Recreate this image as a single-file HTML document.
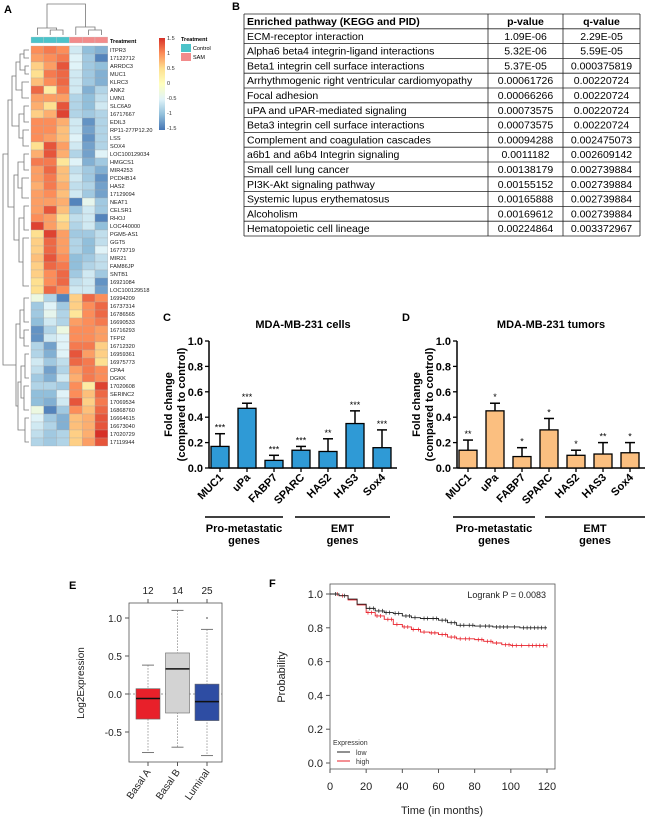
<!DOCTYPE html>
<html><head><meta charset="utf-8"><style>
body{margin:0;background:#fff}
svg{display:block;font-family:"Liberation Sans",Arial,sans-serif}
</style></head><body>
<svg id="fig" width="650" height="823" viewBox="0 0 650 823" xmlns="http://www.w3.org/2000/svg">
<g id="panelA"></g>
<g id="panelB"></g>
<g id="panelC"></g>
<g id="panelD"></g>
<g id="panelE"></g>
<g id="panelF"></g>
</svg>
<script>
// ===== Data =====
const geneNames = ["ITPR3","17122712","ARRDC3","MUC1","KLRC3","ANK2","LMN1","SLC6A9","16717667","EDIL3","RP11-277P12.20","LSS","SOX4","LOC100129034","HMGCS1","MIR4253","PCDHB14","HAS2","17129094","NEAT1","CELSR1","RHOJ","LOC440000","PGM5-AS1","GGT5","16773719","MIR21","FAM86JP","SNTB1","16921084","LOC100129518","16994209","16737314","16786565","16690533","16716293","TFPI2","16712320","16959361","16975773","CPA4","DGKK","17020608","SERINC2","17069534","16868760","16664615","16673040","17020729","17119944"];
const heatValues = [
[1.0,1.1,1.0,-0.6,-1.0,-1.1],[0.9,1.0,1.1,-0.5,-0.9,-1.4],[0.6,0.9,1.3,-0.5,-0.9,-1.0],[0.5,1.1,1.2,-0.6,-0.9,-1.1],[0.7,1.0,1.2,-0.6,-0.9,-1.1],
[1.2,0.3,1.1,-0.6,-1.1,-0.8],[0.9,0.9,0.9,-0.8,-1.0,-0.7],[0.8,0.5,1.3,-0.8,-1.0,-0.6],[0.6,0.8,1.4,-0.8,-0.9,-0.8],[1.0,1.0,0.8,-0.6,-1.3,-0.8],
[1.0,1.0,0.7,-0.6,-1.2,-0.8],[1.0,0.9,0.7,-0.5,-1.3,-0.8],[0.5,1.3,0.9,-0.6,-1.2,-0.8],[0.8,1.3,0.8,-0.8,-1.2,-0.5],[1.1,1.1,0.4,-0.5,-1.1,-0.9],
[0.9,1.2,0.7,-0.7,-0.9,-1.1],[0.9,1.1,0.7,-0.6,-0.9,-1.3],[0.8,1.1,0.8,-0.7,-0.8,-1.2],[0.9,1.0,0.7,-0.6,-0.9,-1.2],[0.9,0.9,0.8,-1.4,-0.4,-0.9],
[0.9,1.3,0.7,-0.9,-0.6,-0.9],[1.0,0.9,0.5,-0.7,-0.6,-1.4],[1.4,0.9,0.6,-0.8,-0.6,-1.0],[0.5,1.4,0.9,-0.9,-0.9,-0.7],[0.6,1.2,0.9,-0.8,-1.0,-0.7],
[0.6,1.2,0.9,-0.8,-1.0,-0.5],[0.7,1.3,1.0,-1.0,-0.9,-0.7],[0.6,1.2,1.1,-1.0,-0.8,-0.7],[0.6,1.0,1.2,-0.9,-0.6,-0.9],[0.5,1.0,1.2,-0.7,-0.6,-1.3],
[0.5,1.2,1.0,-0.6,-0.6,-1.2],[-0.3,-0.8,-1.4,0.6,1.2,1.0],[-0.9,-0.5,-0.9,0.6,1.0,1.2],[-0.9,-0.4,-0.8,0.4,1.0,1.2],[-1.0,-0.6,-0.8,0.9,1.0,1.1],
[-1.3,-0.8,-0.3,1.0,1.0,0.9],[-1.3,-0.6,-0.5,1.0,1.0,0.9],[-0.8,-1.2,-0.5,1.1,1.1,0.6],[-0.8,-1.1,-0.5,1.3,0.9,0.6],[-0.6,-0.9,-0.7,1.2,1.1,0.5],
[-0.7,-1.2,-0.8,0.9,1.1,1.0],[-0.9,-1.1,-0.6,0.8,1.1,1.0],[-0.8,-0.8,-0.9,1.0,0.3,1.4],[-1.0,-1.0,-0.5,1.0,0.7,1.2],[-1.0,-1.1,-0.6,1.3,0.6,1.1],
[-0.3,-1.4,-0.9,1.0,0.7,1.2],[-0.5,-0.9,-1.1,0.7,0.8,1.3],[-0.6,-0.8,-1.1,0.7,0.8,1.3],[-0.7,-0.9,-0.8,0.6,0.8,1.5],[-0.8,-0.9,-0.8,0.6,0.9,1.3]];
const treatment = ["Control","Control","Control","SAM","SAM","SAM"];
const scaleTicks = [1.5,1,0.5,0,-0.5,-1,-1.5];

const tableRows = [["ECM-receptor interaction","1.09E-06","2.29E-05"],["Alpha6 beta4 integrin-ligand interactions","5.32E-06","5.59E-05"],["Beta1 integrin cell surface interactions","5.37E-05","0.000375819"],["Arrhythmogenic right ventricular cardiomyopathy","0.00061726","0.00220724"],["Focal adhesion","0.00066266","0.00220724"],["uPA and uPAR-mediated signaling","0.00073575","0.00220724"],["Beta3 integrin cell surface interactions","0.00073575","0.00220724"],["Complement and coagulation cascades","0.00094288","0.002475073"],["a6b1 and a6b4 Integrin signaling","0.0011182","0.002609142"],["Small cell lung cancer","0.00138179","0.002739884"],["PI3K-Akt signaling pathway","0.00155152","0.002739884"],["Systemic lupus erythematosus","0.00165888","0.002739884"],["Alcoholism","0.00169612","0.002739884"],["Hematopoietic cell lineage","0.00224864","0.003372967"]];

const barCategories = ["MUC1","uPa","FABP7","SPARC","HAS2","HAS3","Sox4"];
const cellsValues = [0.17,0.47,0.06,0.14,0.13,0.35,0.16];
const cellsErrors = [0.10,0.04,0.04,0.03,0.10,0.10,0.14];
const cellsStars = ["***","***","***","***","**","***","***"];
const tumorValues = [0.14,0.45,0.09,0.30,0.10,0.11,0.12];
const tumorErrors = [0.08,0.06,0.07,0.09,0.04,0.09,0.08];
const tumorStars = ["**","*","*","*","*","**","*"];
const barTicks = ["0.0","0.2","0.4","0.6","0.8","1.0"];

const boxGroups = ["Basal A","Basal B","Luminal"];
const boxCounts = ["12","14","25"];
const boxMin = [-0.77,-0.70,-0.81];
const boxQ1 = [-0.33,-0.25,-0.35];
const boxMedian = [-0.06,0.33,-0.10];
const boxQ3 = [0.07,0.54,0.13];
const boxMax = [0.38,1.10,0.85];
const boxOutliers = [[],[],[1.0]];
const boxTicks = ["-0.5","0.0","0.5","1.0"];

const kmLowTime = [0,5,10,15,20,25,30,35,40,45,50,55,60,65,70,80,90,105,120];
const kmLowProb = [1.0,0.99,0.97,0.94,0.915,0.90,0.89,0.885,0.87,0.86,0.855,0.855,0.845,0.83,0.815,0.81,0.805,0.80,0.80];
const kmHighTime = [0,5,10,15,20,25,30,35,40,45,50,55,60,65,70,80,85,90,95,100,120];
const kmHighProb = [1.0,0.99,0.965,0.935,0.89,0.87,0.85,0.82,0.805,0.79,0.775,0.77,0.76,0.745,0.735,0.73,0.72,0.71,0.70,0.695,0.695];
const kmLowCensor = [3,8,22,24,27,29,31,33,36,38,42,44,47,52,54,57,59,62,64,67,69,72,74,77,79,83,86,88,92,94,96,98,102,107,109,111,113,115,117,119];
const kmHighCensor = [4,7,21,23,26,28,32,34,37,41,43,46,49,52,56,58,62,64,67,69,72,75,77,82,84,87,89,92,97,99,101,103,106,110,112,114,116,118,120];
const kmXTicks = [0,20,40,60,80,100,120];
const kmYTicks = [0,0.2,0.4,0.6,0.8,1.0];

// ===== helpers =====
const NS="http://www.w3.org/2000/svg";
function mk(parent,tag,attrs,text){const e=document.createElementNS(NS,tag);for(const k in attrs)e.setAttribute(k,attrs[k]);if(text!==undefined)e.textContent=text;parent.appendChild(e);return e;}
function lbl(parent,x,y,t,name){const e=mk(parent,"text",{x:x,y:y,"font-size":11,"font-weight":"bold"},t);


return e;}

// ===== Panel A =====
(function(){
const g=document.getElementById("panelA");
lbl(g,4,13,"A","panel-a-label");
const stops=[[-1.5,[69,117,180]],[-1,[145,191,219]],[-0.5,[224,243,248]],[0,[255,255,191]],[0.5,[254,224,144]],[1,[252,141,89]],[1.5,[215,48,39]]];
function col(v){v=Math.max(-1.5,Math.min(1.5,v));for(let i=0;i<stops.length-1;i++){const a=stops[i],b=stops[i+1];if(v<=b[0]){const t=(v-a[0])/(b[0]-a[0]);const c=a[1].map((x,j)=>Math.round(x+(b[1][j]-x)*t));return "rgb("+c.join(",")+")";}}return "rgb(215,48,39)";}
const x0=31,cw=12.8,y0=46,rh=8;
const xc=i=>x0+i*cw, yr=r=>y0+r*rh;
treatment.forEach((t,i)=>{const r=mk(g,"rect",{x:xc(i),y:37,width:cw,height:6,fill:t==="Control"?"#4cc3c9":"#f28b8b",stroke:"#ccc","stroke-width":0.3});

});
mk(g,"text",{x:110,y:43,"font-size":5.5,"font-weight":"bold"},"Treatment");
heatValues.forEach((row,r)=>{row.forEach((v,i)=>{const c=mk(g,"rect",{x:xc(i),y:yr(r),width:cw,height:rh,fill:col(v),stroke:"#aaa","stroke-width":0.3});

});
const t=mk(g,"text",{x:110,y:yr(r)+6,"font-size":5.6,fill:"#222"},geneNames[r]);

});
const dp="stroke:#777;fill:none;stroke-width:0.8";
const cx=i=>xc(i)+cw/2;
mk(g,"path",{style:dp,d:`M${cx(1)} 35V30H${cx(2)}V35 M${cx(0)} 35V28H${(cx(1)+cx(2))/2}V30 M${cx(4)} 35V30H${cx(5)}V35 M${cx(3)} 35V27H${(cx(4)+cx(5))/2}V30 M${(cx(0)+cx(1.5))/2} 28V4H${(cx(3)+cx(4.5))/2}V27`});
mk(g,"path",{style:dp,d:`M29 50H24V58H29 M29 66H25V74H29 M24 54H20V70H25 M29 82H22V98H29 M20 62H16V90H22 M29 106H24V122H29 M29 130H23V146H29 M24 114H19V138H23 M16 76H12V126H19 M29 154H24V170H29 M29 178H22V198H29 M24 162H18V188H22 M29 206H24V230H29 M29 238H23V286H29 M24 218H19V262H23 M18 175H14V240H19 M12 100H8V207H14 M29 298H24V322H29 M29 330H24V346H29 M24 310H20V338H24 M29 354H25V378H29 M29 386H24V410H29 M29 418H25V442H29 M25 366H21V398H24 M24 430H21V430 M21 382H18V430H25 M20 324H16V406H18 M8 154H3V365H16`});
const grad=mk(g,"defs",{});const lg=mk(grad,"linearGradient",{id:"hg",x1:0,y1:0,x2:0,y2:1});
stops.slice().reverse().forEach((s,i)=>mk(lg,"stop",{offset:(i/6),"stop-color":col(s[0])}));
const cb=mk(g,"rect",{x:159,y:38,width:6,height:92,fill:"url(#hg)"});


scaleTicks.forEach((v,i)=>mk(g,"text",{x:167,y:40+(1.5-v)/3*90,"font-size":5.5,fill:"#333"},String(v)));
mk(g,"text",{x:181,y:41,"font-size":5.5,"font-weight":"bold"},"Treatment");
mk(g,"rect",{x:181,y:44,width:10,height:8,fill:"#4cc3c9"});mk(g,"text",{x:193,y:50,"font-size":5.5},"Control");
mk(g,"rect",{x:181,y:53,width:10,height:8,fill:"#f28b8b"});mk(g,"text",{x:193,y:59,"font-size":5.5},"SAM");
})();

// ===== Panel B =====
(function(){
const g=document.getElementById("panelB");
lbl(g,232,10,"B","panel-b-label");
const X=[244,488,563,640],top=14,rh=14.8;
const rows=[["Enriched pathway (KEGG and PID)","p-value","q-value"]].concat(tableRows);
rows.forEach((r,i)=>{const y=top+i*rh;
mk(g,"line",{x1:X[0],x2:X[3],y1:y,y2:y,stroke:"#222","stroke-width":0.8});
const b=i===0?"bold":"normal";
const t1=mk(g,"text",{x:X[0]+3,y:y+11,"font-size":10.5,"font-weight":b},r[0]);


mk(g,"text",{x:(X[1]+X[2])/2,y:y+11,"font-size":10.5,"font-weight":b,"text-anchor":"middle"},r[1]);
mk(g,"text",{x:(X[2]+X[3])/2,y:y+11,"font-size":10.5,"font-weight":b,"text-anchor":"middle"},r[2]);});
const yb=top+rows.length*rh;
mk(g,"line",{x1:X[0],x2:X[3],y1:yb,y2:yb,stroke:"#222","stroke-width":0.8});
X.forEach(x=>mk(g,"line",{x1:x,x2:x,y1:top,y2:yb,stroke:"#222","stroke-width":0.8}));
})();

// ===== Panels C & D =====
function barPanel(id,letter,lx,title,ax,axEnd,vals,errs,stars,fill,grp){
const g=document.getElementById(id);
lbl(g,lx,321,letter,"panel-"+letter.toLowerCase()+"-label");
const y0=468,h=127,yv=v=>y0-v*h, xb=i=>ax+11+i*27;
const tt=mk(g,"text",{x:(ax+axEnd)/2,y:328,"font-size":11,"font-weight":"bold","text-anchor":"middle"},title);


mk(g,"line",{x1:ax,x2:ax,y1:yv(1),y2:y0,stroke:"#000","stroke-width":1.5});
mk(g,"line",{x1:ax,x2:axEnd,y1:y0,y2:y0,stroke:"#000","stroke-width":1.5});
barTicks.forEach(t=>{const v=parseFloat(t);mk(g,"line",{x1:ax-4,x2:ax,y1:yv(v),y2:yv(v),stroke:"#000","stroke-width":1.3});
mk(g,"text",{x:ax-6,y:yv(v)+4,"font-size":11,"font-weight":"bold","text-anchor":"end"},t);});
const ycx=ax-30;
const ya=mk(g,"text",{transform:`translate(${ycx},${(yv(0)+yv(1))/2}) rotate(-90)`,"font-size":11,"font-weight":"bold","text-anchor":"middle"});


mk(ya,"tspan",{x:0,dy:-7},"Fold change");mk(ya,"tspan",{x:0,dy:13},"(compared to control)");
vals.forEach((v,i)=>{const x=xb(i);
mk(g,"line",{x1:x,x2:x,y1:yv(v),y2:yv(v+errs[i]),stroke:"#000","stroke-width":1.5});
mk(g,"line",{x1:x-5,x2:x+5,y1:yv(v+errs[i]),y2:yv(v+errs[i]),stroke:"#000","stroke-width":1.5});
const r=mk(g,"rect",{x:x-9,y:yv(v),width:18,height:v*h,fill:fill,stroke:"#000","stroke-width":1.3});


mk(g,"text",{x:x,y:yv(v+errs[i])-3,"font-size":9,"text-anchor":"middle"},stars[i]);
mk(g,"line",{x1:x,x2:x,y1:y0,y2:y0+4,stroke:"#000","stroke-width":1.3});
const cl=mk(g,"text",{transform:`translate(${x+4},${y0+10}) rotate(-45)`,"font-size":11,"font-weight":"bold","text-anchor":"end"},barCategories[i]);

});
grp.forEach(gp=>{mk(g,"line",{x1:gp[0],x2:gp[1],y1:517,y2:517,stroke:"#000","stroke-width":1.5});
const t=mk(g,"text",{x:(gp[0]+gp[1])/2,y:532,"font-size":11,"font-weight":"bold","text-anchor":"middle"});


mk(t,"tspan",{x:(gp[0]+gp[1])/2,dy:0},gp[2]);mk(t,"tspan",{x:(gp[0]+gp[1])/2,dy:12},"genes");});
}
barPanel("panelC","C",163,"MDA-MB-231 cells",209,397,cellsValues,cellsErrors,cellsStars,"#2f9ad6",[[205,283,"Pro-metastatic"],[295,390,"EMT"]]);
barPanel("panelD","D",402,"MDA-MB-231 tumors",457,645,tumorValues,tumorErrors,tumorStars,"#fbbf80",[[453,535,"Pro-metastatic"],[545,645,"EMT"]]);

// ===== Panel E =====
(function(){
const g=document.getElementById("panelE");
lbl(g,69,589,"E","panel-e-label");
const yv=v=>694-v*76, xc=i=>148+i*29.5;
mk(g,"rect",{x:129,y:603,width:93,height:159,fill:"none",stroke:"#555","stroke-width":0.8});
boxTicks.forEach(t=>{const v=parseFloat(t);mk(g,"line",{x1:125,x2:129,y1:yv(v),y2:yv(v),stroke:"#555"});
mk(g,"text",{x:122,y:yv(v)+4,"font-size":10,"text-anchor":"end",fill:"#222"},t);});
mk(g,"line",{x1:129,x2:222,y1:yv(0),y2:yv(0),stroke:"#777","stroke-dasharray":"2,2","stroke-width":0.7});
const ya=mk(g,"text",{transform:`translate(84,683) rotate(-90)`,"font-size":10,"text-anchor":"middle",fill:"#222"},"Log2Expression");


const fills=["#e8202a","#d3d3d3","#2e4da3"];
boxGroups.forEach((n,i)=>{const x=xc(i);
mk(g,"line",{x1:x,x2:x,y1:yv(boxMax[i]),y2:yv(boxMin[i]),stroke:"#777","stroke-dasharray":"1.5,1.5","stroke-width":0.7});
[boxMax[i],boxMin[i]].forEach(v=>mk(g,"line",{x1:x-6,x2:x+6,y1:yv(v),y2:yv(v),stroke:"#777"}));
const b=mk(g,"rect",{x:x-12,y:yv(boxQ3[i]),width:24,height:yv(boxQ1[i])-yv(boxQ3[i]),fill:fills[i],stroke:"#666","stroke-width":0.6});


mk(g,"line",{x1:x-12,x2:x+12,y1:yv(boxMedian[i]),y2:yv(boxMedian[i]),stroke:"#111","stroke-width":1.5});
boxOutliers[i].forEach(v=>mk(g,"circle",{cx:x,cy:yv(v),r:1,fill:"#888"}));
mk(g,"line",{x1:x,x2:x,y1:599,y2:603,stroke:"#555"});mk(g,"line",{x1:x,x2:x,y1:762,y2:766,stroke:"#555"});
mk(g,"text",{x:x,y:594,"font-size":10,"text-anchor":"middle",fill:"#222"},boxCounts[i]);
const cl=mk(g,"text",{transform:`translate(${x+3},${772}) rotate(-55)`,"font-size":10,"text-anchor":"end",fill:"#222"},n);

});
})();

// ===== Panel F =====
(function(){
const g=document.getElementById("panelF");
lbl(g,269,587,"F","panel-f-label");
const xv=t=>330+t*(217/120), yv=p=>763-p*169;
mk(g,"rect",{x:330,y:584,width:225,height:185,fill:"none",stroke:"#555","stroke-width":0.8});
kmXTicks.forEach(t=>{mk(g,"line",{x1:xv(t),x2:xv(t),y1:769,y2:773,stroke:"#555"});
mk(g,"text",{x:xv(t),y:790,"font-size":11,"text-anchor":"middle",fill:"#222"},String(t));});
kmYTicks.forEach(p=>{mk(g,"line",{x1:326,x2:330,y1:yv(p),y2:yv(p),stroke:"#555"});
mk(g,"text",{x:323,y:yv(p)+4,"font-size":11,"text-anchor":"end",fill:"#222"},p.toFixed(1));});
const xt=mk(g,"text",{x:442,y:814,"font-size":11,"text-anchor":"middle",fill:"#222"},"Time (in months)");


const yt=mk(g,"text",{transform:"translate(285,677) rotate(-90)","font-size":11,"text-anchor":"middle",fill:"#222"},"Probability");


mk(g,"text",{x:546,y:598,"font-size":9,"text-anchor":"end",fill:"#222"},"Logrank P = 0.0083");
function probAt(T,P,t){let p=P[0];for(let i=0;i<T.length;i++){if(T[i]<=t)p=P[i];}return p;}
function curve(T,P,C,color,name){let d=`M${xv(T[0])} ${yv(P[0])}`;for(let i=1;i<T.length;i++){d+=`H${xv(T[i])}V${yv(P[i])}`;}
const pth=mk(g,"path",{d:d,fill:"none",stroke:color,"stroke-width":0.9});


C.forEach(t=>{const x=xv(t),y=yv(probAt(T,P,t));mk(g,"line",{x1:x,x2:x,y1:y-2,y2:y+2,stroke:color,"stroke-width":0.7});});}
curve(kmHighTime,kmHighProb,kmHighCensor,"#e8202a","curve-high");
curve(kmLowTime,kmLowProb,kmLowCensor,"#222","curve-low");
mk(g,"text",{x:333,y:745,"font-size":7,fill:"#333"},"Expression");
mk(g,"line",{x1:337,x2:350,y1:752,y2:752,stroke:"#222"});mk(g,"text",{x:356,y:755,"font-size":7,fill:"#333"},"low");
mk(g,"line",{x1:337,x2:350,y1:761,y2:761,stroke:"#e8202a"});mk(g,"text",{x:356,y:764,"font-size":7,fill:"#333"},"high");
})();
</script>
</body></html>
